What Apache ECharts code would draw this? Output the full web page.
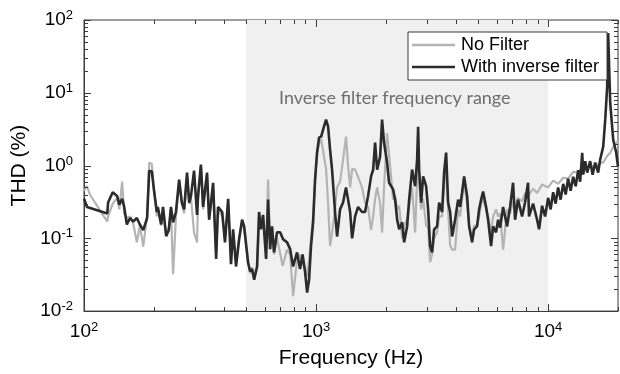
<!DOCTYPE html>
<html>
<head>
<meta charset="utf-8">
<script src="https://cdn.jsdelivr.net/npm/echarts@6/dist/echarts.min.js"></script>
<style>
html, body { margin: 0; padding: 0; background: #fff; }
#chart { width: 620px; height: 374px; }
</style>
</head>
<body>
<div id="chart"></div>
<script>
// axis ranges and shaded band (Hz)
var xRange = [100, 20000];
var yRange = [0.01, 100];
var filterBand = [500, 10000];
var legendNames = ['No Filter', 'With inverse filter'];
var bandLabel = 'Inverse filter frequency range';

// [frequency Hz, THD %]
var noFilter = [
    [100, 0.45], [103, 0.52], [106, 0.4], [126, 0.17], [127, 0.2], [133, 0.3], [139, 0.36], [142, 0.25],
    [146, 0.6], [149, 0.22], [153, 0.19], [158, 0.2], [163, 0.16], [169, 0.088], [174, 0.15], [180, 0.077],
    [187, 0.2], [191, 1.1], [196, 1.05], [200, 0.5], [206, 0.2], [208, 0.25], [215, 0.15], [219, 0.25],
    [226, 0.11], [232, 0.14], [237, 0.25], [242, 0.032], [249, 0.2], [257, 0.6], [264, 0.3], [270, 0.22],
    [278, 0.7], [284, 0.3], [289, 0.36], [298, 0.12], [307, 0.088], [310, 0.35], [319, 1.0], [326, 0.25],
    [339, 0.75], [346, 0.2], [353, 0.3], [360, 0.5], [371, 0.06], [378, 0.25], [394, 0.2], [405, 0.1],
    [418, 0.3], [430, 0.05], [439, 0.12], [452, 0.05], [466, 0.1], [480, 0.17], [490, 0.13], [509, 0.05],
    [520, 0.033], [530, 0.04], [541, 0.03], [557, 0.04], [568, 0.2], [579, 0.14], [591, 0.2], [609, 0.06],
    [621, 0.64], [634, 0.08], [646, 0.14], [659, 0.06], [679, 0.1], [718, 0.042], [750, 0.07], [773, 0.06],
    [796, 0.016], [828, 0.05], [853, 0.06], [875, 0.045], [897, 0.04], [915, 0.03], [933, 0.05], [951, 0.1],
    [971, 0.2], [990, 0.6], [1010, 1.5], [1030, 2.0], [1052, 2.3], [1072, 1.6], [1104, 0.9], [1127, 0.3],
    [1149, 0.078], [1172, 0.12], [1197, 0.2], [1232, 0.5], [1269, 0.6], [1307, 1.2], [1346, 2.5], [1374, 1.0],
    [1402, 0.5], [1430, 0.9], [1473, 0.88], [1517, 0.7], [1578, 0.5], [1626, 0.31], [1675, 0.27], [1726, 0.13],
    [1762, 0.2], [1796, 0.35], [1833, 0.5], [1888, 0.3], [1925, 0.12], [1963, 0.5], [2023, 2.8], [2064, 1.4],
    [2148, 0.34], [2191, 0.38], [2236, 0.25], [2281, 0.28], [2350, 0.1], [2396, 0.15], [2468, 0.18], [2518, 0.28],
    [2593, 0.5], [2672, 0.12], [2725, 0.7], [2753, 1.5], [2780, 0.6], [2837, 0.25], [2893, 0.35], [2980, 0.15],
    [3040, 0.14], [3100, 0.047], [3162, 0.06], [3226, 0.1], [3323, 0.12], [3390, 0.2], [3492, 0.2], [3562, 0.5],
    [3634, 1.2], [3707, 0.25], [3782, 0.08], [3858, 0.07], [3973, 0.07], [4093, 0.25], [4175, 0.2], [4259, 0.35],
    [4345, 0.6], [4476, 0.3], [4566, 0.15], [4703, 0.1], [4797, 0.15], [4941, 0.15], [5041, 0.2], [5142, 0.3],
    [5245, 0.35], [5403, 0.25], [5512, 0.2], [5678, 0.12], [5792, 0.2], [5966, 0.25], [6086, 0.2], [6209, 0.22],
    [6397, 0.07], [6655, 0.25], [6855, 0.22], [7061, 0.32], [7203, 0.27], [7419, 0.36], [7720, 0.32], [7952, 0.42],
    [8191, 0.38], [8610, 0.48], [8963, 0.42], [9417, 0.55], [10000, 0.5], [10510, 0.62], [11040, 0.56], [11610, 0.68],
    [12190, 0.66], [12820, 0.82], [13470, 0.8], [14020, 0.95], [14730, 0.9], [15170, 1.02], [15950, 0.95],
    [16760, 1.1], [17270, 1.1], [17960, 1.35], [18510, 1.5], [19070, 1.8], [19640, 2.0], [20000, 2.2]
];

var withFilter = [
    [100, 0.35], [103, 0.27], [126, 0.22], [127, 0.31], [133, 0.43], [139, 0.38], [142, 0.29], [146, 0.35],
    [149, 0.27], [153, 0.155], [158, 0.19], [163, 0.17], [169, 0.19], [174, 0.155], [180, 0.13], [187, 0.19],
    [191, 0.85], [196, 0.83], [200, 0.47], [206, 0.23], [208, 0.27], [215, 0.155], [219, 0.27], [226, 0.107],
    [232, 0.13], [237, 0.27], [242, 0.166], [249, 0.23], [257, 0.64], [264, 0.31], [270, 0.25], [278, 0.8],
    [284, 0.31], [289, 0.38], [298, 0.85], [307, 0.21], [310, 0.38], [319, 1.03], [326, 0.27], [339, 0.8],
    [346, 0.18], [353, 0.32], [360, 0.58], [371, 0.052], [378, 0.27], [394, 0.23], [405, 0.088], [418, 0.35],
    [430, 0.044], [439, 0.133], [452, 0.041], [466, 0.097], [480, 0.18], [490, 0.146], [509, 0.047], [520, 0.035],
    [530, 0.038], [541, 0.027], [557, 0.041], [568, 0.23], [579, 0.133], [591, 0.21], [609, 0.052], [621, 0.34],
    [634, 0.071], [646, 0.146], [659, 0.064], [679, 0.121], [700, 0.121], [721, 0.097], [750, 0.088], [773, 0.071],
    [796, 0.041], [828, 0.064], [853, 0.038], [875, 0.06], [897, 0.034], [915, 0.018], [933, 0.027], [951, 0.078],
    [971, 0.166], [990, 0.64], [1010, 1.51], [1030, 2.42], [1052, 2.5], [1072, 3.11], [1104, 4.27], [1127, 3.42],
    [1149, 1.66], [1172, 0.88], [1197, 0.34], [1207, 0.23], [1232, 0.106], [1269, 0.25], [1307, 0.31], [1346, 0.5],
    [1374, 0.34], [1402, 0.23], [1430, 0.1], [1473, 0.2], [1517, 0.27], [1578, 0.23], [1626, 0.23], [1675, 0.38],
    [1726, 0.71], [1762, 0.88], [1796, 2.07], [1833, 0.88], [1888, 1.33], [1925, 4.27], [1963, 2.07], [2023, 1.1],
    [2064, 0.58], [2148, 0.47], [2191, 0.34], [2236, 0.18], [2281, 0.133], [2350, 0.166], [2396, 0.088], [2468, 0.146],
    [2518, 0.34], [2593, 0.88], [2672, 0.52], [2725, 1.21], [2753, 3.42], [2780, 0.88], [2837, 0.31], [2893, 0.71],
    [2980, 0.52], [3040, 0.25], [3100, 0.078], [3162, 0.064], [3226, 0.133], [3323, 0.146], [3390, 0.31], [3492, 0.23],
    [3562, 0.8], [3634, 1.51], [3707, 0.31], [3782, 0.23], [3858, 0.106], [3973, 0.18], [4093, 0.34], [4175, 0.27],
    [4259, 0.43], [4345, 0.71], [4476, 0.38], [4566, 0.146], [4703, 0.088], [4797, 0.133], [4941, 0.146], [5041, 0.25],
    [5142, 0.34], [5245, 0.44], [5403, 0.27], [5512, 0.18], [5678, 0.078], [5792, 0.146], [5966, 0.121], [6086, 0.18],
    [6209, 0.14], [6397, 0.27], [6655, 0.146], [6855, 0.27], [7061, 0.58], [7203, 0.18], [7419, 0.34], [7720, 0.2],
    [7952, 0.31], [8191, 0.58], [8273, 0.2], [8610, 0.3], [8963, 0.18], [9142, 0.133], [9417, 0.28], [9700, 0.2],
    [10000, 0.36], [10250, 0.25], [10510, 0.43], [10770, 0.3], [11040, 0.5], [11320, 0.34], [11610, 0.56],
    [11900, 0.4], [12190, 0.66], [12500, 0.45], [12820, 0.7], [13140, 0.52], [13470, 0.86], [13740, 0.6],
    [14020, 1.5], [14160, 0.75], [14450, 1.15], [14730, 0.8], [15170, 1.15], [15550, 0.75], [15950, 1.1],
    [16430, 0.8], [16760, 1.21], [17270, 1.82], [17620, 4.27], [17960, 12], [18140, 66], [18510, 7.3],
    [19070, 2.27], [19640, 1.51], [20000, 0.97]
];

var axisColor = '#3a3a3a';
var fontFamily = 'Liberation Sans, Arial, sans-serif';

// tick positions 1..9 per decade
var xTickVals = [];
var yTickVals = [];
for (var d = 100; d < 20000; d *= 10) {
    for (var k = 1; k < 10; k++) {
        if (d * k <= 20000) xTickVals.push(d * k);
    }
}
for (var d2 = 0.01; d2 < 99; d2 *= 10) {
    for (var k2 = 1; k2 < 10; k2++) yTickVals.push(d2 * k2);
}
yTickVals.push(100);

function isMajor(v) {
    var e = Math.log10(v);
    return Math.abs(e - Math.round(e)) < 1e-6;
}

function powLabel(v) {
    if (!isMajor(v)) return '';
    return '{b|10}{s|' + Math.round(Math.log10(v)) + '}';
}

var richLabel = {
    b: { fontSize: 19, fontFamily: fontFamily, color: '#000', lineHeight: 22 },
    s: { fontSize: 13, fontFamily: fontFamily, color: '#000', verticalAlign: 'top', lineHeight: 22, padding: [0, 0, 9, 0] }
};

var chart = echarts.init(document.getElementById('chart'), null, { renderer: 'canvas' });

var option = {
    animation: false,
    grid: {
        left: 84, right: 2, top: 20, bottom: 62,
        show: true, borderColor: axisColor, borderWidth: 1, backgroundColor: 'transparent'
    },
    legend: {
        left: 408, top: 32,
        orient: 'vertical',
        data: legendNames,
        icon: 'rect',
        itemWidth: 43, itemHeight: 2.5,
        itemGap: 2,
        padding: [3, 5, 3, 4],
        backgroundColor: '#fff',
        borderColor: axisColor, borderWidth: 1,
        textStyle: {
            fontSize: 18, fontFamily: fontFamily, color: '#000', lineHeight: 20,
            width: 141, overflow: 'none', padding: [0, 0, 0, 1]
        }
    },
    xAxis: {
        type: 'log', logBase: 10,
        min: xRange[0], max: xRange[1],
        name: 'Frequency (Hz)', nameLocation: 'middle', nameGap: 35,
        nameTextStyle: { fontSize: 21, fontFamily: fontFamily, color: '#000' },
        axisLine: { show: true, lineStyle: { color: axisColor } },
        axisTick: { show: false },
        splitLine: { show: false },
        axisLabel: { margin: 10, formatter: powLabel, rich: richLabel, showMaxLabel: false }
    },
    yAxis: {
        type: 'log', logBase: 10,
        min: yRange[0], max: yRange[1],
        name: 'THD (%)', nameLocation: 'middle', nameGap: 47, nameRotate: 90,
        nameTextStyle: { fontSize: 21, fontFamily: fontFamily, color: '#000' },
        axisLine: { show: true, lineStyle: { color: axisColor } },
        axisTick: { show: false },
        splitLine: { show: false },
        axisLabel: { margin: 11, formatter: powLabel, rich: richLabel }
    },
    series: [
        {
            name: legendNames[0], type: 'line', data: noFilter,
            showSymbol: false, symbol: 'none', z: 2,
            lineStyle: { color: '#b4b4b4', width: 2.2 },
            itemStyle: { color: '#b4b4b4' },
            markArea: {
                silent: true,
                itemStyle: { color: '#f0f0f0' },
                data: [[{ xAxis: filterBand[0] }, { xAxis: filterBand[1] }]]
            }
        },
        {
            name: legendNames[1], type: 'line', data: withFilter,
            showSymbol: false, symbol: 'none', z: 3,
            lineStyle: { color: '#2b2b2b', width: 2.6 },
            itemStyle: { color: '#2b2b2b' }
        }
    ]
};

chart.setOption(option);

// annotation + inside ticks on all four sides (matlab box style), placed with the axis scales
var graphics = [{
    id: 'note', type: 'text', left: 279, top: 89, z: 5,
    style: { text: bandLabel, fill: '#6e6e6e', font: '18px Lato, "Open Sans", sans-serif' }
}];

function tickLine(id, x1, y1, x2, y2) {
    return {
        id: id, type: 'line', z: 10, silent: true,
        shape: { x1: x1, y1: y1, x2: x2, y2: y2 },
        style: { stroke: axisColor, lineWidth: 1 }
    };
}

xTickVals.forEach(function (f, i) {
    var len = isMajor(f) ? 7 : 4;
    var lo = chart.convertToPixel({ gridIndex: 0 }, [f, yRange[0]]);
    var hi = chart.convertToPixel({ gridIndex: 0 }, [f, yRange[1]]);
    var x = Math.round(lo[0]) + 0.5;
    graphics.push(tickLine('xb' + i, x, lo[1], x, lo[1] - len));
    graphics.push(tickLine('xt' + i, x, hi[1], x, hi[1] + len));
});
yTickVals.forEach(function (v, i) {
    var len = isMajor(v) ? 7 : 4;
    var lf = chart.convertToPixel({ gridIndex: 0 }, [xRange[0], v]);
    var rt = chart.convertToPixel({ gridIndex: 0 }, [xRange[1], v]);
    var y = Math.round(lf[1]) + 0.5;
    graphics.push(tickLine('yl' + i, lf[0], y, lf[0] + len, y));
    graphics.push(tickLine('yr' + i, rt[0], y, rt[0] - len, y));
});
chart.setOption({ graphic: graphics });
</script>
</body>
</html>
